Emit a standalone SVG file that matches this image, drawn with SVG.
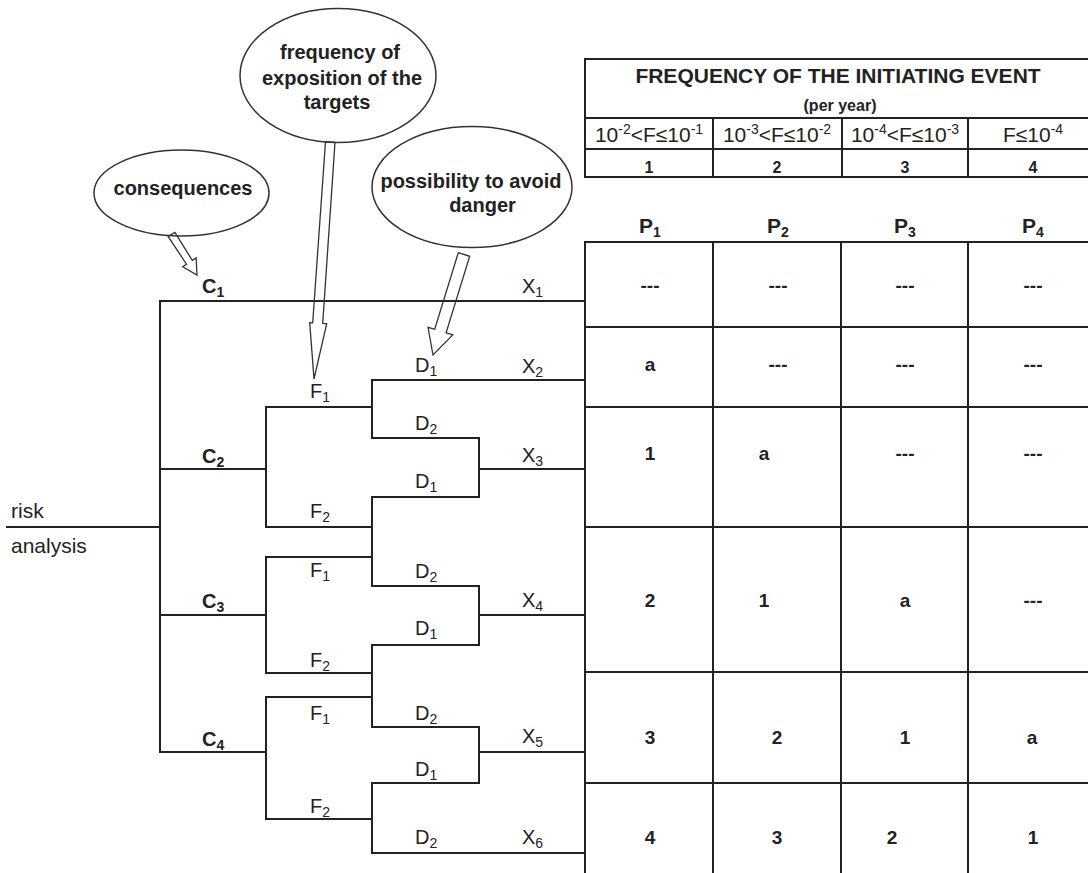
<svg xmlns="http://www.w3.org/2000/svg" width="1088" height="873" viewBox="0 0 1088 873">
<style>
.ln{stroke:#222;stroke-width:2;fill:none;stroke-linecap:square}
.el{stroke:#333;stroke-width:1.5;fill:none}
.ar{stroke:#333;stroke-width:1.3;fill:none;stroke-linejoin:miter}
text{font-family:"Liberation Sans",Arial,Helvetica,sans-serif;fill:#222}
.b{font-weight:bold}
.et{font-size:20px;font-weight:bold;text-anchor:middle}
.lbl{font-size:20px}
.sub{font-size:14px}
.cell{font-size:19px;font-weight:bold;text-anchor:middle}
.ph{font-size:21px;font-weight:bold;text-anchor:middle}
.rng{font-size:21px;text-anchor:middle}
.sup{font-size:14px}
.num{font-size:16px;font-weight:bold;text-anchor:middle}
</style>

<g id="connectors">
  <path class="ln" d="M7,527 H160 M160,301 H585 M160,301 V752
  M160,469 H266 M266,407 V527 M266,407 H372 M266,527 H372
  M372,380 V438 M372,380 H585 M372,438 H479 M479,438 V497 M479,469 H585 M372,497 H479
  M372,497 V586 M266,557 H372 M160,615 H266 M266,557 V673 M266,673 H372
  M372,586 H479 M479,586 V645 M479,615 H585 M372,645 H479
  M372,645 V727 M266,697 H372 M160,752 H266 M266,697 V819 M266,819 H372
  M372,727 H479 M479,727 V783 M479,752 H585 M372,783 H479
  M372,783 V853 M372,853 H585"/>
  <polygon id="arrow-consequences" class="ar" points="168.1,236.4 174.9,232.4 192.3,260.4 196.1,257.9 197,275 182.7,266.7 186.5,264.2"/>
  <polygon id="arrow-frequency" class="ar" points="325.5,141.7 335,142.3 322.7,323.4 326.7,323.6 314,379 309.7,322.6 312.7,322.8"/>
  <polygon id="arrow-possibility" class="ar" points="458.3,252.7 469.7,256.3 446.1,332.9 452.8,334.9 433,355 428,327.3 434.7,329.3"/>
</g>

<g id="node-consequences">
  <ellipse class="el" cx="181.5" cy="193" rx="87.5" ry="43"/>
  <text class="et" x="183" y="195">consequences</text>
</g>
<g id="node-frequency">
  <ellipse class="el" cx="338" cy="75.5" rx="98" ry="67"/>
  <text class="et" x="340" y="59">frequency of</text>
  <text class="et" x="342" y="85">exposition of the</text>
  <text class="et" x="337" y="109">targets</text>
</g>
<g id="node-possibility">
  <ellipse class="el" cx="472" cy="187" rx="100" ry="60.5"/>
  <text class="et" x="471" y="188">possibility to avoid</text>
  <text class="et" x="482.5" y="212">danger</text>
</g>

<g id="node-risk">
  <text class="lbl" x="11" y="518" style="font-size:21px">risk</text>
  <text class="lbl" x="11" y="553" style="font-size:21px">analysis</text>
</g>

<g id="node-C-labels">
  <text class="lbl b" x="202" y="293">C<tspan class="sub" dy="4">1</tspan></text>
  <text class="lbl b" x="202" y="463">C<tspan class="sub" dy="4">2</tspan></text>
  <text class="lbl b" x="202" y="608">C<tspan class="sub" dy="4">3</tspan></text>
  <text class="lbl b" x="202" y="746">C<tspan class="sub" dy="4">4</tspan></text>
</g>
<g id="node-F-labels">
  <text class="lbl" x="310" y="398">F<tspan class="sub" dy="4">1</tspan></text>
  <text class="lbl" x="310" y="518">F<tspan class="sub" dy="4">2</tspan></text>
  <text class="lbl" x="310" y="577">F<tspan class="sub" dy="4">1</tspan></text>
  <text class="lbl" x="310" y="667">F<tspan class="sub" dy="4">2</tspan></text>
  <text class="lbl" x="310" y="720">F<tspan class="sub" dy="4">1</tspan></text>
  <text class="lbl" x="310" y="813">F<tspan class="sub" dy="4">2</tspan></text>
</g>
<g id="node-D-labels">
  <text class="lbl" x="415" y="372">D<tspan class="sub" dy="4">1</tspan></text>
  <text class="lbl" x="415" y="430">D<tspan class="sub" dy="4">2</tspan></text>
  <text class="lbl" x="415" y="488">D<tspan class="sub" dy="4">1</tspan></text>
  <text class="lbl" x="415" y="578">D<tspan class="sub" dy="4">2</tspan></text>
  <text class="lbl" x="415" y="635">D<tspan class="sub" dy="4">1</tspan></text>
  <text class="lbl" x="415" y="720">D<tspan class="sub" dy="4">2</tspan></text>
  <text class="lbl" x="415" y="776">D<tspan class="sub" dy="4">1</tspan></text>
  <text class="lbl" x="415" y="844">D<tspan class="sub" dy="4">2</tspan></text>
</g>
<g id="node-X-labels">
  <text class="lbl" x="522" y="293">X<tspan class="sub" dy="4">1</tspan></text>
  <text class="lbl" x="522" y="373">X<tspan class="sub" dy="4">2</tspan></text>
  <text class="lbl" x="522" y="462">X<tspan class="sub" dy="4">3</tspan></text>
  <text class="lbl" x="522" y="607">X<tspan class="sub" dy="4">4</tspan></text>
  <text class="lbl" x="522" y="743">X<tspan class="sub" dy="4">5</tspan></text>
  <text class="lbl" x="522" y="844">X<tspan class="sub" dy="4">6</tspan></text>
</g>

<g id="node-frequency-table">
  <path class="ln" d="M585,59 H1088 M585,59 V177 M585,118 H1088 M585,149 H1088 M585,177 H1088 M713,118 V177 M842,118 V177 M968,118 V177"/>
  <text class="ph" x="838" y="83">FREQUENCY OF THE INITIATING EVENT</text>
  <text class="num" x="840" y="111">(per year)</text>
  <text class="rng" x="649" y="142">10<tspan class="sup" dy="-8">-2</tspan><tspan dy="8">&lt;F≤10</tspan><tspan class="sup" dy="-8">-1</tspan></text>
  <text class="rng" x="777" y="142">10<tspan class="sup" dy="-8">-3</tspan><tspan dy="8">&lt;F≤10</tspan><tspan class="sup" dy="-8">-2</tspan></text>
  <text class="rng" x="905" y="142">10<tspan class="sup" dy="-8">-4</tspan><tspan dy="8">&lt;F≤10</tspan><tspan class="sup" dy="-8">-3</tspan></text>
  <text class="rng" x="1033" y="142">F≤10<tspan class="sup" dy="-8">-4</tspan></text>
  <text class="num" x="649" y="173">1</text>
  <text class="num" x="777" y="173">2</text>
  <text class="num" x="905" y="173">3</text>
  <text class="num" x="1033" y="173">4</text>
</g>

<g id="node-risk-matrix">
  <path class="ln" d="M585,242 H1088 M585,242 V873 M585,327 H1088 M585,407 H1088 M585,527 H1088 M585,672 H1088 M585,783 H1088 M713,242 V873 M841,242 V873 M968,242 V873"/>
  <text class="ph" x="650" y="233">P<tspan class="sub" dy="4">1</tspan></text>
  <text class="ph" x="778" y="233">P<tspan class="sub" dy="4">2</tspan></text>
  <text class="ph" x="905" y="233">P<tspan class="sub" dy="4">3</tspan></text>
  <text class="ph" x="1033" y="233">P<tspan class="sub" dy="4">4</tspan></text>
  <text class="cell" x="650" y="292">---</text>
  <text class="cell" x="778" y="292">---</text>
  <text class="cell" x="905" y="292">---</text>
  <text class="cell" x="1033" y="292">---</text>
  <text class="cell" x="650" y="371">a</text>
  <text class="cell" x="778" y="371">---</text>
  <text class="cell" x="905" y="371">---</text>
  <text class="cell" x="1033" y="371">---</text>
  <text class="cell" x="650" y="460">1</text>
  <text class="cell" x="764" y="460">a</text>
  <text class="cell" x="905" y="460">---</text>
  <text class="cell" x="1033" y="460">---</text>
  <text class="cell" x="650" y="607">2</text>
  <text class="cell" x="764" y="607">1</text>
  <text class="cell" x="905" y="607">a</text>
  <text class="cell" x="1033" y="607">---</text>
  <text class="cell" x="650" y="744">3</text>
  <text class="cell" x="777" y="744">2</text>
  <text class="cell" x="905" y="744">1</text>
  <text class="cell" x="1032" y="744">a</text>
  <text class="cell" x="650" y="844">4</text>
  <text class="cell" x="777" y="844">3</text>
  <text class="cell" x="892" y="844">2</text>
  <text class="cell" x="1033" y="844">1</text>
</g>
</svg>
